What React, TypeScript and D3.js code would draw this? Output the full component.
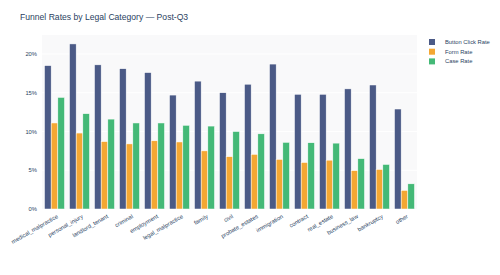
import React from 'react'
import * as d3 from 'd3'

const categories = [
  'medical_malpractice', 'personal_injury', 'landlord_tenant', 'criminal', 'employment',
  'legal_malpractice', 'family', 'civil', 'probate_estates', 'immigration',
  'contract', 'real_estate', 'business_law', 'bankruptcy', 'other'
]
const buttonClickRate = [18.5, 21.3, 18.6, 18.1, 17.6, 14.7, 16.5, 15.0, 16.1, 18.7, 14.8, 14.8, 15.5, 16.0, 12.9]
const formRate = [11.1, 9.8, 8.7, 8.4, 8.8, 8.65, 7.5, 6.75, 7.05, 6.4, 6.0, 6.3, 4.95, 5.1, 2.4]
const caseRate = [14.4, 12.3, 11.6, 11.1, 11.1, 10.8, 10.7, 10.0, 9.7, 8.6, 8.55, 8.5, 6.5, 5.75, 3.25]
const yTicks = [0, 5, 10, 15, 20]

const seriesNames = ['Button Click Rate', 'Form Rate', 'Case Rate']
const seriesValues = [buttonClickRate, formRate, caseRate]
const colors = ['#4b5a86', '#f4a733', '#44b977']

const W = 500, H = 275
const margin = { top: 35, right: 83, bottom: 66, left: 42 }
const font = '"Liberation Sans", Arial, sans-serif'
const textColor = '#2a3f5f'

export default function App() {
  const innerW = W - margin.left - margin.right
  const innerH = H - margin.top - margin.bottom

  const x = d3.scaleBand().domain(categories).range([0, innerW]).paddingInner(0.2).paddingOuter(0.1)
  const xs = d3.scaleBand().domain(seriesNames).range([0, x.bandwidth()])
  const y = d3.scaleLinear().domain([0, 22.45]).range([innerH, 0])

  return (
    <svg width={W} height={H} style={{ position: 'absolute', left: 0, top: 0, background: '#fff' }}>
      <text x={20} y={20} fontFamily={font} fontSize={8.6} fill={textColor}>
        Funnel Rates by Legal Category — Post-Q3
      </text>
      <g transform={`translate(${margin.left},${margin.top})`}>
        <rect width={innerW} height={innerH} fill="#f9f9fa" />
        {yTicks.map(t => (
          <g key={t}>
            {t > 0 && <line x1={0} x2={innerW} y1={y(t)} y2={y(t)} stroke="#fff" strokeWidth={1} />}
            <text x={-5} y={y(t)} dy="0.35em" textAnchor="end" fontFamily={font} fontSize={5.8} fill={textColor}>
              {t}%
            </text>
          </g>
        ))}
        {categories.map((c, i) => (
          <g key={c} transform={`translate(${x(c)},0)`}>
            {seriesValues.map((vals, s) => (
              <rect
                key={s}
                x={xs(seriesNames[s])}
                y={y(vals[i])}
                width={xs.bandwidth()}
                height={innerH - y(vals[i])}
                fill={colors[s]}
                stroke="#fff"
                strokeWidth={0.5}
              />
            ))}
          </g>
        ))}
        {categories.map(c => {
          const cx = (x(c) ?? 0) + x.bandwidth() / 2
          return (
            <text
              key={c}
              transform={`translate(${cx + 2},${innerH + 5}) rotate(-30)`}
              textAnchor="end"
              dy="0.7em"
              fontFamily={font}
              fontSize={5.8}
              fill={textColor}
            >
              {c}
            </text>
          )
        })}
      </g>
      <g transform="translate(432,42)">
        {seriesNames.map((n, i) => (
          <g key={n} transform={`translate(0,${i * 9.7})`}>
            <rect x={-3} y={-3} width={6} height={6} fill={colors[i]} />
            <text x={13} y={0} dy="0.35em" fontFamily={font} fontSize={5.8} fill={textColor}>
              {n}
            </text>
          </g>
        ))}
      </g>
    </svg>
  )
}
